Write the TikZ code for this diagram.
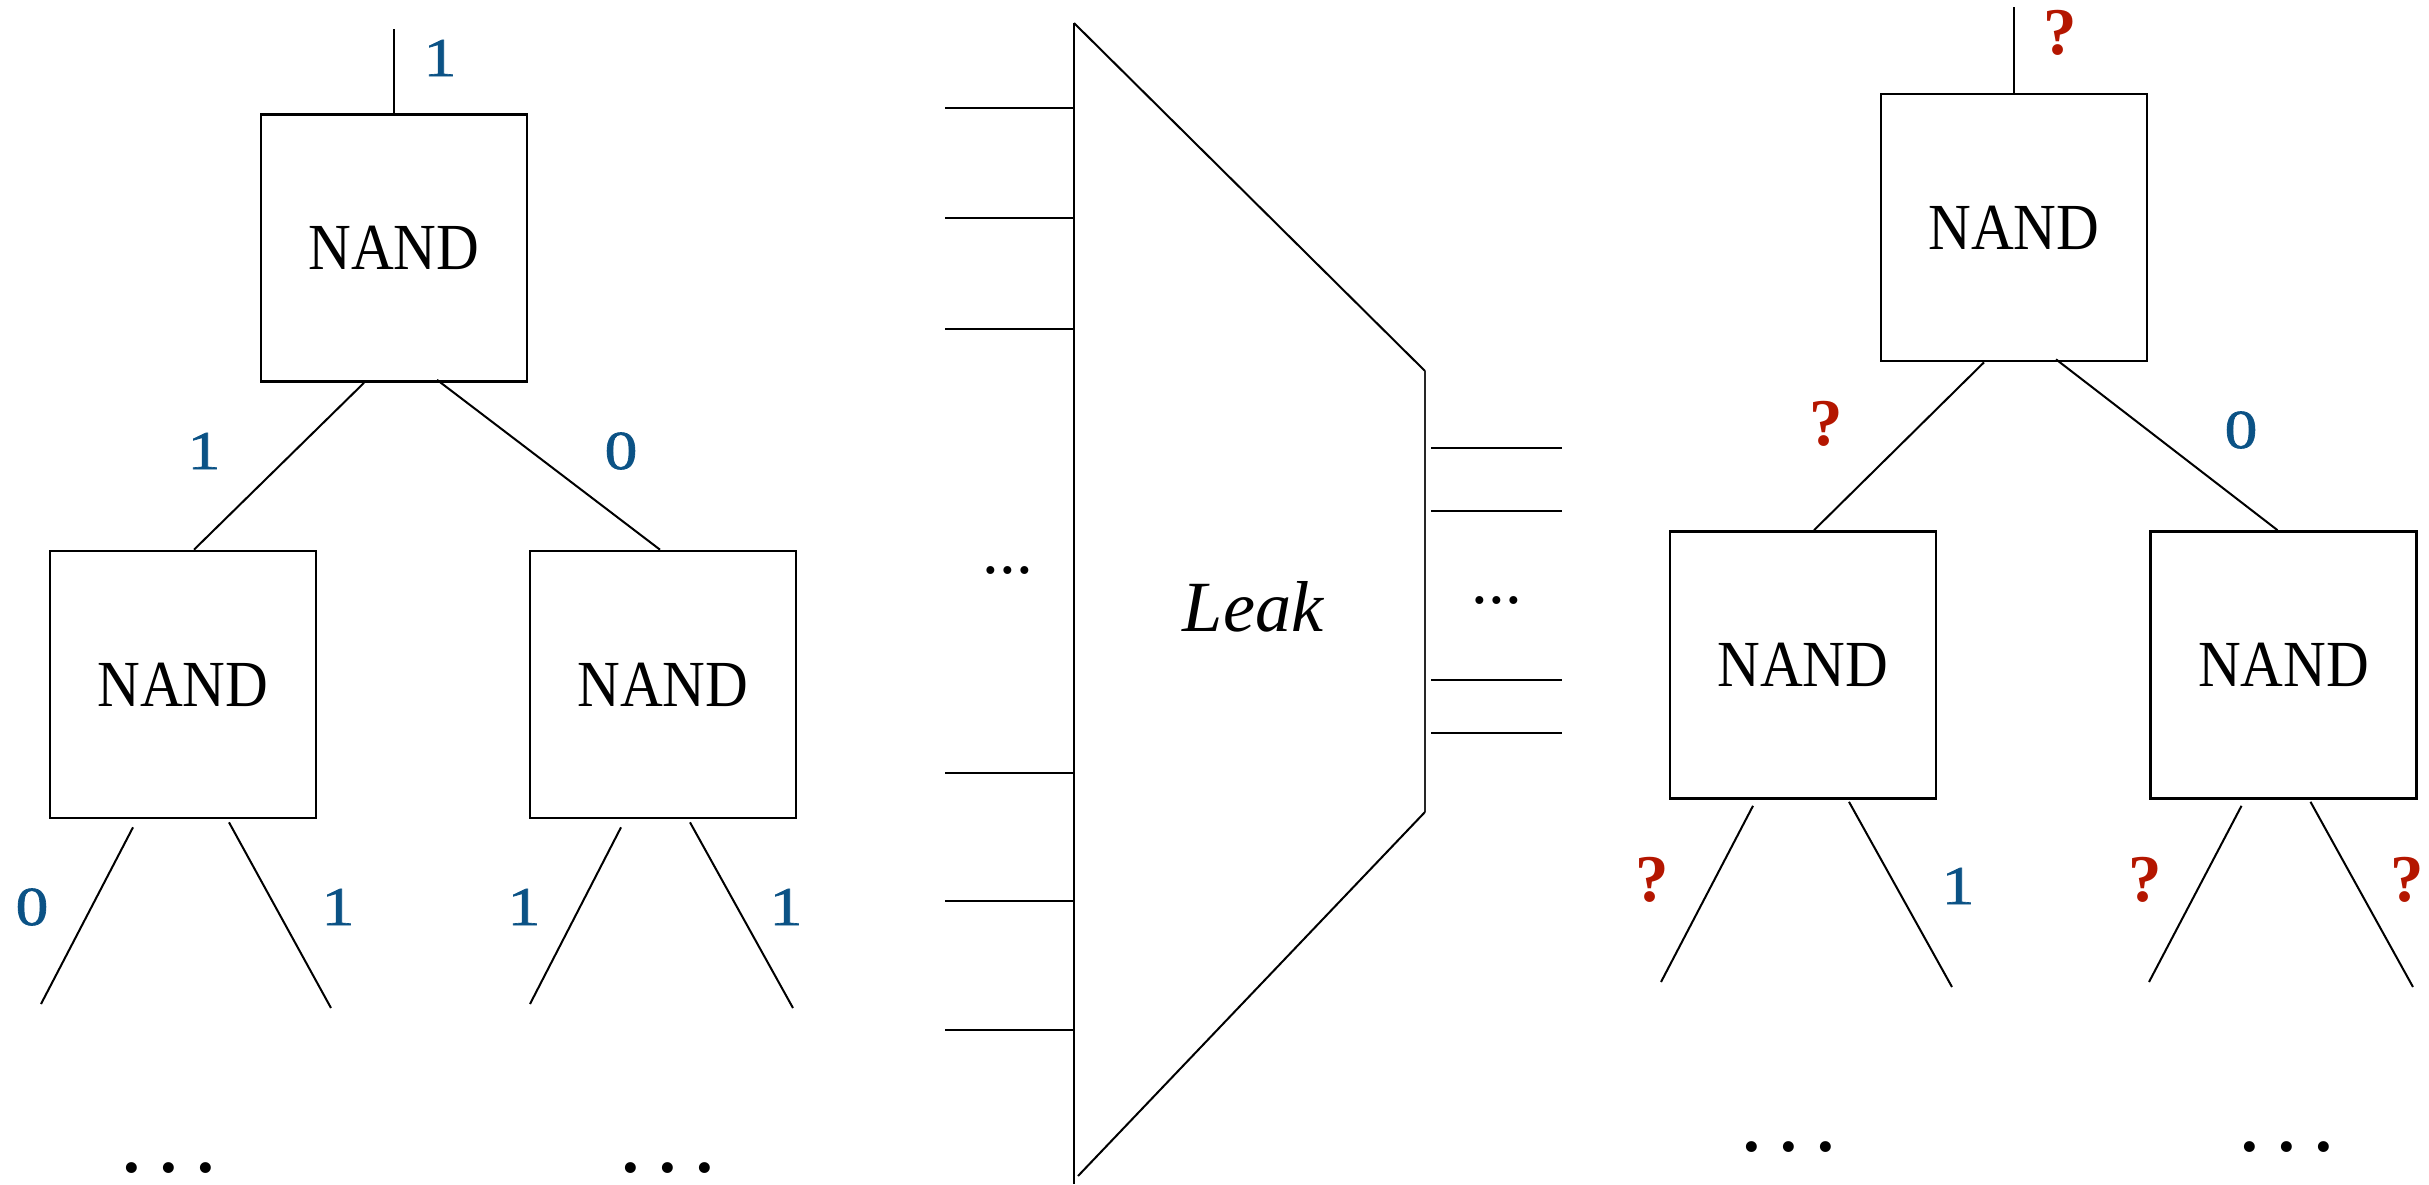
\documentclass[tikz,border=0pt]{standalone}
\usepackage{fontspec}
\setmainfont{Liberation Serif}
\newfontfamily\gatefont[FakeStretch=0.9]{Liberation Serif}
\newfontfamily\bitfont[FakeStretch=1.2,FakeBold=1.2]{Liberation Serif}
\usetikzlibrary{calc}
\definecolor{bitblue}{RGB}{11,82,133}
\definecolor{qred}{RGB}{180,22,0}

\begin{document}
\begin{tikzpicture}[x=0.01cm,y=-0.01cm,
  wire/.style={line width=0.02cm},
  gate/.style={draw, line width=0.025cm, minimum width=2.66cm, minimum height=2.67cm,
    inner sep=0pt, font=\gatefont\fontsize{18.7}{20}\selectfont},
  bit/.style={text=bitblue, inner sep=0pt, font=\bitfont\fontsize{15.6}{18}\selectfont},
  unk/.style={text=qred, inner sep=0pt, font=\bfseries\fontsize{19}{22}\selectfont},
  more/.style={inner sep=0pt, font=\bfseries\fontsize{19}{22}\selectfont},
  etc/.style={inner sep=0pt, font=\fontsize{19}{22}\selectfont},
]
\useasboundingbox (0,0) rectangle (2429,1184);

% ---------- left tree: all wire values known ----------
\node[gate] (lt) at (394,248) {NAND};
\node[gate] (ll) at (183,684.5) {NAND};
\node[gate] (lr) at (663,684.5) {NAND};

\coordinate (ltin) at (394,29);
\draw[wire] (lt.north) -- (ltin);
\draw[wire] ($(lt.south)+(-30,0)$) -- ($(ll.north)+(11,0)$);
\draw[wire] ($(lt.south)+(43,-3)$) -- ($(lr.north)+(-3,0)$);

\coordinate (lla) at (41,1004);
\coordinate (llb) at (331,1008);
\coordinate (lra) at (530,1004);
\coordinate (lrb) at (793,1008);
\draw[wire] ($(ll.south)+(-50,8)$) -- (lla);
\draw[wire] ($(ll.south)+(46,3)$) -- (llb);
\draw[wire] ($(lr.south)+(-42,8)$) -- (lra);
\draw[wire] ($(lr.south)+(27,3)$) -- (lrb);

\node[bit] (b0) at (440,58) {1};
\node[bit] (b1) at (204,451) {1};
\node[bit] (b2) at (621,451) {0};
\node[bit] (b3) at (32,907) {0};
\node[bit] (b4) at (338,907) {1};
\node[bit] (b5) at (524,907) {1};
\node[bit] (b6) at (786,907) {1};

\node[more] (lmore1) at (169,1168) {.\kern5.7pt.\kern5.7pt.};
\node[more] (lmore2) at (668,1168) {.\kern5.7pt.\kern5.7pt.};

% ---------- leakage box ----------
\coordinate (kt) at (1074,23);
\coordinate (kb) at (1074,1184);
\coordinate (ktr) at (1425,371);
\coordinate (kbr) at (1425,812);
\coordinate (kbe) at (1078,1176);
\draw[wire] (kt) -- (kb);
\draw[wire] (kt) -- (ktr);
\draw[line width=0.025cm, black!85] (ktr) -- (kbr);
\draw[wire] (kbr) -- (kbe);
\node[font=\itshape\fontsize{20.5}{24}\selectfont] (leak) at (1253,607) {Leak};

\foreach \yy [count=\i] in {108,218,329,773,901,1030}{
  \coordinate (in\i) at (945,\yy);
  \draw[wire] (in\i) -- (1074,\yy);
}
\foreach \yy [count=\i] in {448,511,680,733}{
  \coordinate (out\i) at (1431,\yy);
  \draw[wire] (out\i) -- (1562,\yy);
}
\node[etc] (indots) at (1008,570) {...};
\node[etc] (outdots) at (1497,600) {...};

% ---------- right tree: values partly unknown ----------
\node[gate] (rt) at (2014,227.5) {NAND};
\node[gate] (rl) at (1803,665) {NAND};
\node[gate] (rr) at (2283.5,665) {NAND};

\coordinate (rtin) at (2014,7);
\draw[wire] (rt.north) -- (rtin);
\draw[wire] ($(rt.south)+(-30,0)$) -- ($(rl.north)+(11,0)$);
\draw[wire] ($(rt.south)+(42,-3)$) -- ($(rr.north)+(-6,0)$);

\coordinate (rla) at (1661,982);
\coordinate (rlb) at (1952,987);
\coordinate (rra) at (2149,982);
\coordinate (rrb) at (2413,987);
\draw[wire] ($(rl.south)+(-50,6)$) -- (rla);
\draw[wire] ($(rl.south)+(46,2)$) -- (rlb);
\draw[wire] ($(rr.south)+(-42,6)$) -- (rra);
\draw[wire] ($(rr.south)+(27,2)$) -- (rrb);

\node[unk] (q0) at (2060,33) {?};
\node[unk] (q1) at (1826,424) {?};
\node[bit] (c2) at (2241,430) {0};
\node[unk] (q3) at (1652,880) {?};
\node[bit] (c4) at (1958,886) {1};
\node[unk] (q5) at (2145,880) {?};
\node[unk] (q6) at (2407,880) {?};

\node[more] (rmore1) at (1789,1147.5) {.\kern5.7pt.\kern5.7pt.};
\node[more] (rmore2) at (2287,1147.5) {.\kern5.7pt.\kern5.7pt.};
\end{tikzpicture}
\end{document}
